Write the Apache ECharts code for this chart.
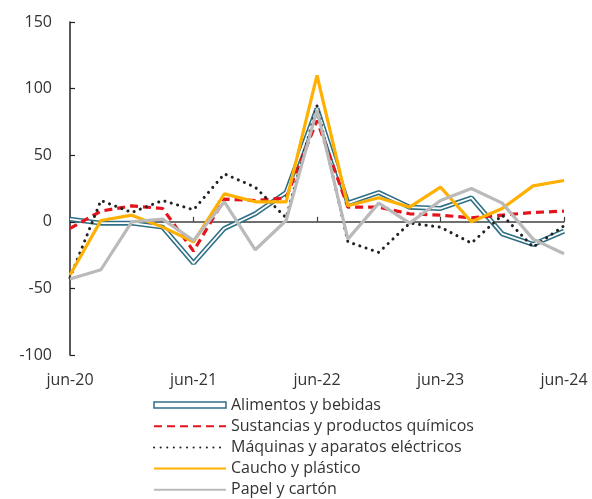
<!DOCTYPE html>
<html>
<head>
<meta charset="utf-8">
<script src="https://cdn.jsdelivr.net/npm/echarts@6/dist/echarts.min.js"></script>
<style>
  html, body { margin: 0; padding: 0; background: #fff; }
  #chart { width: 592px; height: 499px; }
</style>
</head>
<body>
<div id="chart"></div>
<script>
const categories = ['jun-20','sep-20','dic-20','mar-21','jun-21','sep-21','dic-21','mar-22','jun-22',
                    'sep-22','dic-22','mar-23','jun-23','sep-23','dic-23','mar-24','jun-24'];
const yTicks = [-100, -50, 0, 50, 100, 150];

const alimentos  = [2, -1, -1, -4, -31, -5, 6, 22, 85, 14, 22, 11, 10, 18, -9, -17, -7];
const sustancias = [-5, 8, 12, 10, -22, 17, 16, 18, 76, 11, 11, 6, 5, 3, 5, 7, 8];
const maquinas   = [-42, 16, 7, 16, 9, 36, 26, 3, 87, -15, -23, -1, -4, -16, 5, -19, -3];
const caucho     = [-40, 1, 5, -4, -15, 21, 15, 15, 110, 12, 18, 11, 26, 0, 10, 27, 31];
const papel      = [-43, -36, 0, 2, -14, 15, -21, 1, 84, -13, 14, -1, 16, 25, 14, -13, -24];

const names = ['Alimentos y bebidas', 'Sustancias y productos químicos', 'Máquinas y aparatos eléctricos',
               'Caucho y plástico', 'Papel y cartón'];

const FONT = 'Open Sans';
const TEXT = '#333333';
const TEAL = '#2f6f86';

const chart = echarts.init(document.getElementById('chart'), null, { renderer: 'canvas' });

function line(name, data, lineStyle, z) {
  return {
    name, type: 'line', data, xAxisIndex: 0, yAxisIndex: 0,
    symbol: 'none', showSymbol: false, smooth: false, z,
    lineStyle, itemStyle: { color: lineStyle.color },
    emphasis: { disabled: true }
  };
}

chart.setOption({
  animation: false,
  backgroundColor: '#ffffff',
  textStyle: { fontFamily: FONT },
  grid: { left: 70, right: 28, top: 22, bottom: 144, containLabel: false },
  xAxis: [
    {
      type: 'category', data: categories, boundaryGap: false,
      axisLine: { onZero: true, lineStyle: { color: '#404040', width: 1.5 } },
      axisTick: { show: true, inside: true, length: 5, interval: 3, lineStyle: { color: '#404040', width: 1.2 } },
      axisLabel: { show: false },
      splitLine: { show: false }
    },
    {
      type: 'category', data: categories, boundaryGap: false, position: 'bottom',
      axisLine: { show: false, onZero: false },
      axisTick: { show: false },
      axisLabel: { show: true, interval: 3, margin: 17, fontSize: 16, color: TEXT, fontFamily: FONT },
      splitLine: { show: false }
    }
  ],
  yAxis: {
    type: 'value', min: yTicks[0], max: yTicks[yTicks.length - 1], interval: 50,
    axisLine: { show: true, onZero: false, lineStyle: { color: '#222', width: 1.5 } },
    axisTick: { show: true, inside: true, length: 5, lineStyle: { color: '#222', width: 1.2 } },
    axisLabel: { margin: 18, fontSize: 16, color: TEXT, fontFamily: FONT },
    splitLine: { show: false }
  },
  legend: {
    orient: 'vertical', left: 153, top: 397, padding: 0,
    itemWidth: 72, itemHeight: 16, itemGap: 5.2,
    itemStyle: { opacity: 0 },
    textStyle: { fontSize: 16, color: TEXT, fontFamily: FONT },
    data: [
      { name: names[0], icon: 'path://M0,0H72V6H0Z',
        itemStyle: { color: '#ffffff', borderColor: TEAL, borderWidth: 1.5, opacity: 1 } },
      { name: names[1] },
      { name: names[2] },
      { name: names[3] },
      { name: names[4] }
    ]
  },
  series: [
    line(names[0], alimentos, { color: TEAL, width: 5 }, 2),
    Object.assign(line('alimentos_inner', alimentos, { color: '#ffffff', width: 1.8 }, 3), { legendHoverLink: false }),
    line(names[1], sustancias, { color: '#e3141c', width: 3.2, type: [8, 5] }, 4),
    line(names[2], maquinas, { color: '#222222', width: 3, type: [0.1, 6.5], cap: 'round' }, 5),
    line(names[3], caucho, { color: '#ffb000', width: 3.2 }, 6),
    line(names[4], papel, { color: '#bababa', width: 3.2 }, 7)
  ]
});
</script>
</body>
</html>
